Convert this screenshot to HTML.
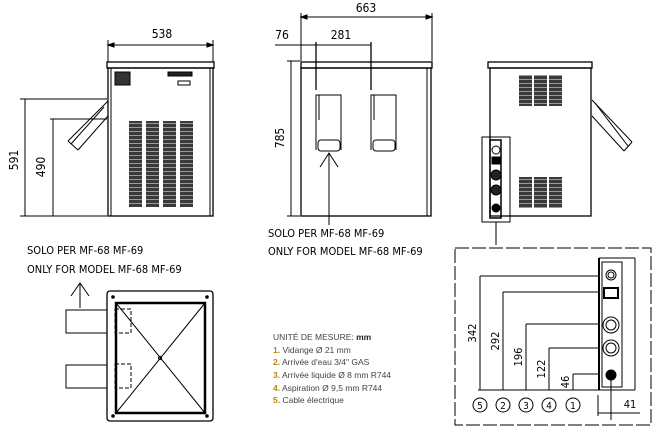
<!DOCTYPE html>
<html><head><meta charset="utf-8"><style>
body{margin:0;background:#fff}
svg{display:block}
text{font-family:"DejaVu Sans Condensed","Liberation Sans",sans-serif;fill:#000}
.leg{font-family:"Liberation Sans",sans-serif;font-size:8.5px;fill:#444}
</style></head><body>
<svg width="665" height="431" viewBox="0 0 665 431" xmlns="http://www.w3.org/2000/svg" stroke="#000" fill="none" stroke-width="1">
<defs>
<pattern id="vent" width="4" height="4" patternUnits="userSpaceOnUse">
<rect width="4" height="4" fill="#3a3a3a" stroke="none"/><rect y="3" width="4" height="1" fill="#999" stroke="none"/>
</pattern>
</defs>
<!-- LEFT VIEW -->
<g>
<line x1="108" y1="45" x2="213" y2="45"/>
<line x1="108" y1="40" x2="108" y2="62"/><line x1="213" y1="40" x2="213" y2="62"/>
<polygon points="108,45 114,43 114,47" fill="#000"/><polygon points="213,45 207,43 207,47" fill="#000"/>
<text x="162" y="38" font-size="12" text-anchor="middle" stroke="none">538</text>
<rect x="107" y="62" width="107" height="6" stroke-width="1.3"/>
<rect x="108" y="68" width="105" height="148" stroke-width="1.3"/>
<line x1="111" y1="68" x2="111" y2="216"/><line x1="210" y1="68" x2="210" y2="216"/>
<rect x="115" y="72" width="15" height="13" fill="#333"/>
<rect x="168" y="72" width="24" height="4" fill="#222"/>
<rect x="178" y="81" width="12" height="4"/>
<line x1="25" y1="99" x2="25" y2="216"/><line x1="20" y1="99" x2="107" y2="99"/>
<line x1="53" y1="119" x2="53" y2="216"/><line x1="50" y1="119" x2="107" y2="119"/>
<line x1="20" y1="216" x2="107" y2="216"/>
<text transform="translate(18,160) rotate(-90)" font-size="12" text-anchor="middle" stroke="none">591</text>
<text transform="translate(45,167) rotate(-90)" font-size="12" text-anchor="middle" stroke="none">490</text>
<line x1="108" y1="101" x2="68" y2="141"/><line x1="108" y1="116" x2="78" y2="150"/>
<line x1="68" y1="141" x2="78" y2="150"/><line x1="104" y1="107" x2="71" y2="144"/>
<g fill="url(#vent)" stroke="none">
<rect x="129" y="121" width="13" height="86"/><rect x="146" y="121" width="13" height="86"/>
<rect x="163" y="121" width="13" height="86"/><rect x="180" y="121" width="13" height="86"/>
</g>
</g>
<!-- MIDDLE VIEW -->
<g>
<line x1="301" y1="17" x2="432" y2="17"/>
<line x1="301" y1="13" x2="301" y2="61"/><line x1="432" y1="13" x2="432" y2="61"/>
<polygon points="301,17 307,15 307,19" fill="#000"/><polygon points="432,17 426,15 426,19" fill="#000"/>
<text x="366" y="12" font-size="12" text-anchor="middle" stroke="none">663</text>
<line x1="275" y1="45" x2="371" y2="45"/>
<line x1="316" y1="42" x2="316" y2="90" stroke-width="1.3"/><line x1="371" y1="42" x2="371" y2="90" stroke-width="1.3"/>
<text x="282" y="39" font-size="12" text-anchor="middle" stroke="none">76</text>
<text x="341" y="39" font-size="12" text-anchor="middle" stroke="none">281</text>
<rect x="301" y="62" width="131" height="6" stroke-width="1.3"/>
<rect x="301" y="68" width="130" height="148" stroke-width="1.3"/>
<line x1="427" y1="68" x2="427" y2="216"/>
<line x1="291" y1="61" x2="291" y2="216"/><line x1="287" y1="61" x2="300" y2="61"/><line x1="287" y1="216" x2="300" y2="216"/>
<text transform="translate(284,138) rotate(-90)" font-size="12" text-anchor="middle" stroke="none">785</text>
<path d="M316,150 V95 H341 V150 M319,95 V120 M371,150 V95 H396 V150 M374,95 V120" />
<rect x="318" y="140" width="22" height="11" rx="3"/><rect x="373" y="140" width="22" height="11" rx="3"/>
<line x1="329" y1="153" x2="329" y2="225"/><path d="M320,167 L329,153 L338,167"/>
<text x="268" y="237" font-size="11" stroke="none">SOLO PER MF-68 MF-69</text>
<text x="268" y="255" font-size="11" stroke="none">ONLY FOR MODEL MF-68 MF-69</text>
</g>
<!-- RIGHT VIEW -->
<g>
<rect x="488" y="62" width="104" height="6" stroke-width="1.3"/>
<rect x="490" y="68" width="101" height="148" stroke-width="1.3"/>
<g fill="url(#vent)" stroke="none">
<rect x="519" y="75" width="13" height="31"/><rect x="534" y="75" width="13" height="31"/><rect x="549" y="75" width="13" height="31"/>
<rect x="519" y="177" width="13" height="31"/><rect x="534" y="177" width="13" height="31"/><rect x="549" y="177" width="13" height="31"/>
</g>
<line x1="592" y1="100" x2="632" y2="142"/><line x1="592" y1="116" x2="624" y2="151"/><line x1="632" y1="142" x2="624" y2="151"/><line x1="595" y1="103" x2="628" y2="146"/>
<rect x="482" y="137" width="28" height="85"/>
<rect x="490" y="140" width="11" height="78" stroke-width="1.5"/>
<circle cx="496" cy="150" r="4"/><rect x="492" y="157" width="8" height="7" fill="#000"/>
<circle cx="496" cy="175" r="5" fill="#222"/><circle cx="496" cy="190" r="5" fill="#222"/><circle cx="496" cy="208" r="4" fill="#000"/>
<line x1="496" y1="222" x2="496" y2="245"/>
</g>
<!-- BOTTOM LEFT -->
<g>
<text x="27" y="254" font-size="11" stroke="none">SOLO PER MF-68 MF-69</text>
<text x="27" y="273" font-size="11" stroke="none">ONLY FOR MODEL MF-68 MF-69</text>
<line x1="80" y1="283" x2="80" y2="308"/><path d="M71,296 L80,283 L89,296"/>
<rect x="107" y="291" width="106" height="130" rx="3" stroke-width="1.3"/>
<rect x="116" y="303" width="89" height="110" stroke-width="2.5"/>
<line x1="116" y1="303" x2="205" y2="413"/><line x1="205" y1="303" x2="116" y2="413"/>
<circle cx="160" cy="358" r="1.5"/>
<rect x="66" y="310" width="41" height="23"/><rect x="66" y="365" width="41" height="23"/>
<rect x="115" y="309" width="16" height="24" stroke-dasharray="4,2"/><rect x="115" y="364" width="16" height="24" stroke-dasharray="4,2"/>
<circle cx="113" cy="297" r="1.3" fill="#000"/><circle cx="207" cy="297" r="1.3" fill="#000"/><circle cx="113" cy="416" r="1.3" fill="#000"/><circle cx="207" cy="416" r="1.3" fill="#000"/>
</g>
<!-- LEGEND -->
<g stroke="none">
<text class="leg" x="273" y="340">UNITÉ DE MESURE: <tspan font-weight="bold" fill="#222">mm</tspan></text>
<text class="leg" x="273" y="353"><tspan font-weight="bold" fill="#b8860b">1.</tspan>  Vidange Ø 21 mm</text>
<text class="leg" x="273" y="365"><tspan font-weight="bold" fill="#b8860b">2.</tspan>  Arrivée d'eau 3/4" GAS</text>
<text class="leg" x="273" y="378"><tspan font-weight="bold" fill="#b8860b">3.</tspan>  Arrivée liquide Ø 8 mm R744</text>
<text class="leg" x="273" y="391"><tspan font-weight="bold" fill="#b8860b">4.</tspan>  Aspiration Ø 9,5 mm  R744</text>
<text class="leg" x="273" y="403"><tspan font-weight="bold" fill="#b8860b">5.</tspan>  Cable électrique</text>
</g>
<!-- DETAIL -->
<g>
<rect x="455" y="248" width="196" height="177" stroke-dasharray="14,3"/>
<line x1="478" y1="390" x2="600" y2="390"/>
<line x1="480" y1="276" x2="600" y2="276"/><line x1="480" y1="276" x2="480" y2="390"/>
<line x1="503" y1="292" x2="600" y2="292"/><line x1="503" y1="292" x2="503" y2="390"/>
<line x1="526" y1="324" x2="600" y2="324"/><line x1="526" y1="324" x2="526" y2="390"/>
<line x1="549" y1="348" x2="600" y2="348"/><line x1="549" y1="348" x2="549" y2="390"/>
<line x1="573" y1="374" x2="600" y2="374"/><line x1="573" y1="374" x2="573" y2="390"/>
<text transform="translate(476,333) rotate(-90)" font-size="11" text-anchor="middle" stroke="none">342</text>
<text transform="translate(499,341) rotate(-90)" font-size="11" text-anchor="middle" stroke="none">292</text>
<text transform="translate(522,357) rotate(-90)" font-size="11" text-anchor="middle" stroke="none">196</text>
<text transform="translate(545,369) rotate(-90)" font-size="11" text-anchor="middle" stroke="none">122</text>
<text transform="translate(569,382) rotate(-90)" font-size="11" text-anchor="middle" stroke="none">46</text>
<g font-size="10" stroke="none" text-anchor="middle">
<text x="480" y="409">5</text><text x="503" y="409">2</text><text x="526" y="409">3</text><text x="549" y="409">4</text><text x="573" y="409">1</text>
</g>
<circle cx="480" cy="405" r="7"/><circle cx="503" cy="405" r="7"/><circle cx="526" cy="405" r="7"/><circle cx="549" cy="405" r="7"/><circle cx="573" cy="405" r="7"/>
<line x1="599" y1="258" x2="599" y2="390" stroke-width="2"/>
<rect x="602" y="262" width="20" height="125"/>
<line x1="599" y1="258" x2="635" y2="258"/><line x1="635" y1="258" x2="635" y2="390"/>
<line x1="599" y1="390" x2="635" y2="390"/>
<circle cx="611" cy="275" r="5"/><circle cx="611" cy="275" r="3"/>
<rect x="604" y="288" width="14" height="10" stroke-width="2"/>
<circle cx="611" cy="325" r="8"/><circle cx="611" cy="325" r="5"/><circle cx="611" cy="348" r="8"/><circle cx="611" cy="348" r="5"/>
<circle cx="611" cy="375" r="5" fill="#000"/>
<line x1="611" y1="375" x2="611" y2="420"/><line x1="598" y1="395" x2="598" y2="416"/>
<line x1="598" y1="413" x2="611" y2="413"/><line x1="611" y1="413" x2="640" y2="413"/>
<text x="630" y="408" font-size="11" text-anchor="middle" stroke="none">41</text>
</g>
</svg>
</body></html>
